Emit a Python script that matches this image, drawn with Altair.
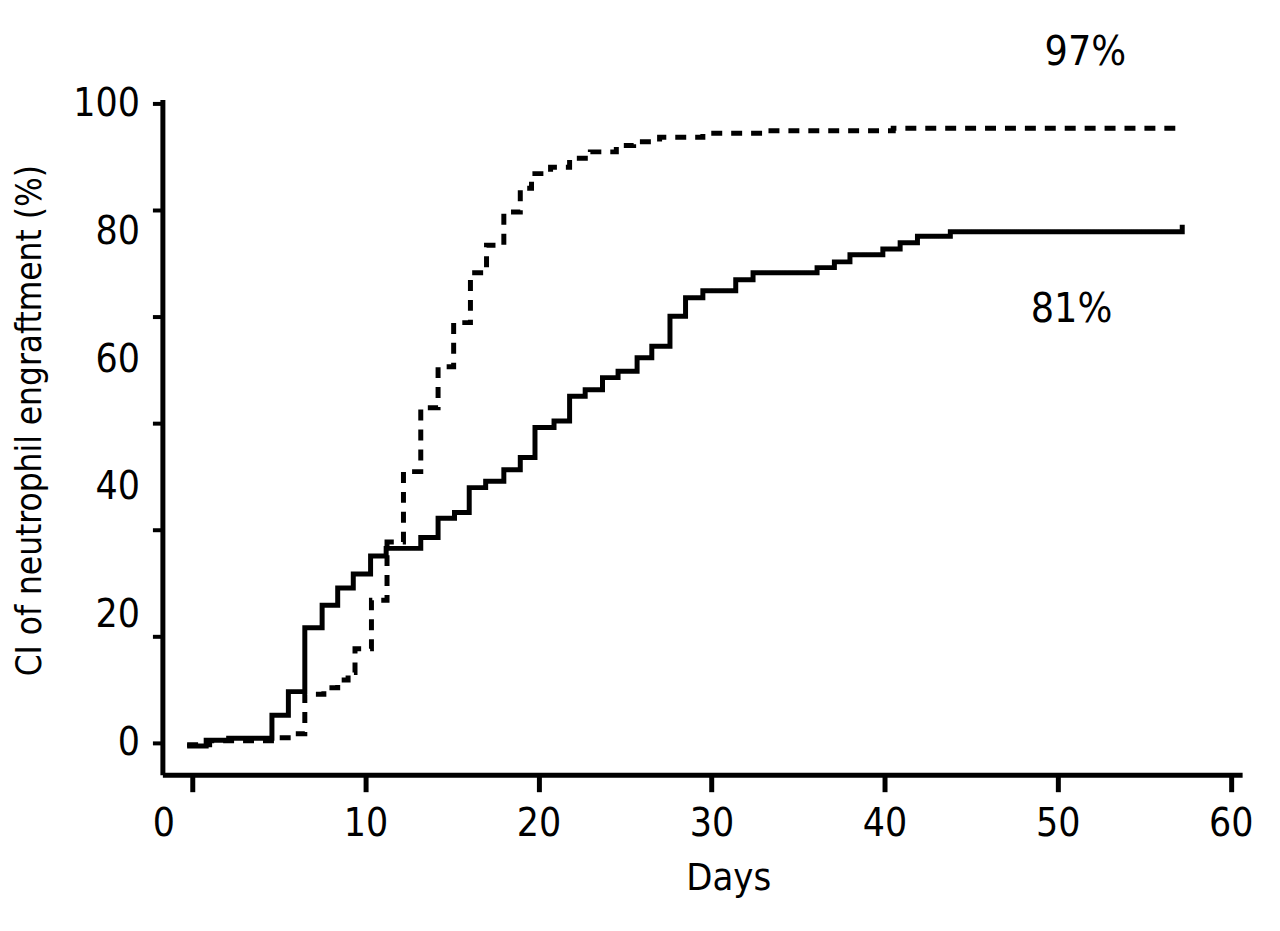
import altair as alt
import pandas as pd

# ---- data ----
solid_days = [-0.3, 0.8, 2.1, 4.6, 5.55, 6.5, 7.5, 8.4, 9.3, 10.3, 11.2, 13.2, 14.2, 15.15,
              16.0, 16.95, 18.0, 18.95, 19.8, 20.9, 21.8, 22.7, 23.7, 24.6, 25.7, 26.55,
              27.6, 28.5, 29.5, 31.4, 32.4, 36.1, 37.1, 38.0, 39.9, 40.9, 41.9, 43.8, 57.2]
solid_vals = [-0.5, 0.4, 0.7, 4.3, 8.0, 18.0, 21.5, 24.2, 26.4, 29.2, 30.4, 32.1, 35.1, 36.0,
              39.9, 40.9, 42.7, 44.6, 49.3, 50.3, 54.2, 55.2, 57.1, 58.1, 60.2, 62.0,
              66.7, 69.6, 70.7, 72.4, 73.5, 74.3, 75.2, 76.3, 77.2, 78.2, 79.2, 79.9, 81.0]

dashed_days = [-0.3, 1.0, 5.0, 5.9, 6.5, 7.6, 8.4, 9.0, 9.4, 10.35, 11.25, 12.2, 13.2, 14.2,
               15.1, 16.07, 17.0, 18.0, 18.95, 19.6, 20.7, 21.8, 23.0, 24.5, 25.5, 27.0,
               29.5, 33.0, 40.5, 57.2]
dashed_vals = [-0.3, 0.3, 0.8, 1.4, 7.6, 8.6, 9.8, 11.0, 14.7, 22.3, 31.4, 42.4, 52.4, 58.8,
               65.7, 73.5, 77.8, 83.0, 86.7, 89.0, 90.0, 91.4, 92.4, 93.4, 94.0, 94.7,
               95.3, 95.7, 96.1, 96.4]

annot_text = ["97%", "81%"]
annot_x = [51.6, 50.8]
annot_y = [107.8, 67.6]

x_ticks = [0, 10, 20, 30, 40, 50, 60]
y_ticks = [0, 100 / 6, 200 / 6, 50, 400 / 6, 500 / 6, 100]
y_labels = [0, 20, 40, 60, 80, 100]

FONT = "DejaVu Sans Condensed"
FS = 39

lines_df = pd.DataFrame(
    {"day": dashed_days + solid_days,
     "ci": dashed_vals + solid_vals,
     "series": ["dashed"] * len(dashed_days) + ["solid"] * len(solid_days)}
)
annot_df = pd.DataFrame({"label": annot_text, "day": annot_x, "ci": annot_y})

xscale = alt.Scale(domain=[-1.73, 60.66], nice=False, zero=False)
yscale = alt.Scale(domain=[-5.0, 100.6], nice=False, zero=False)

lines = alt.Chart(lines_df).mark_line(
    interpolate="step-after", strokeWidth=5, color="black", clip=False
).encode(
    x=alt.X("day:Q", scale=xscale,
            axis=alt.Axis(values=x_ticks, orient="bottom", grid=False,
                          labelExpr="datum.value == 0 ? '' : datum.label",
                          tickSize=17, tickWidth=5, tickColor="black",
                          domainWidth=5, domainColor="black",
                          labelPadding=13, labelFontSize=FS, labelFont=FONT,
                          labelColor="black",
                          title="Days", titleFont=FONT, titleFontSize=38,
                          titleFontWeight="normal", titleColor="black",
                          titleX=568, titleY=104, titleBaseline="middle")),
    y=alt.Y("ci:Q", scale=yscale,
            axis=alt.Axis(values=y_ticks, orient="left", grid=False, labels=False,
                          tickSize=10, tickWidth=4, tickColor="black",
                          domainWidth=5, domainColor="black",
                          title="CI of neutrophil engraftment (%)", titleFont=FONT,
                          titleFontSize=35, titleFontWeight="normal", titleColor="black",
                          titleX=-133, titleY=322, titleBaseline="middle")),
    strokeDash=alt.StrokeDash("series:N",
                              scale=alt.Scale(domain=["dashed", "solid"],
                                              range=[[11, 9], [1, 0]]),
                              legend=None),
    detail="series:N",
)

annots = alt.Chart(annot_df).mark_text(
    font=FONT, fontSize=41, color="black", align="center", baseline="middle"
).encode(
    x=alt.X("day:Q", scale=xscale,
            axis=alt.Axis(values=[0], orient="bottom", grid=False, domain=False,
                          ticks=False, tickSize=0, labelOffset=-29, labelPadding=30,
                          labelFontSize=FS, labelFont=FONT, labelColor="black",
                          title=None)),
    y=alt.Y("ci:Q", scale=yscale,
            axis=alt.Axis(values=y_labels, orient="left", grid=False, domain=False,
                          ticks=False, tickSize=0, labelPadding=23,
                          labelFontSize=FS, labelFont=FONT, labelColor="black",
                          title=None)),
    text="label:N",
)

chart = alt.layer(lines, annots).resolve_axis(
    x="independent", y="independent"
).properties(
    width=1084, height=678,
    autosize=alt.AutoSizeParams(type="none"),
    padding={"left": 155, "top": 90, "right": 30, "bottom": 140},
    background="white",
).configure_view(stroke=None)

chart.save("out.html", embed_options={"renderer": "svg", "actions": False})
